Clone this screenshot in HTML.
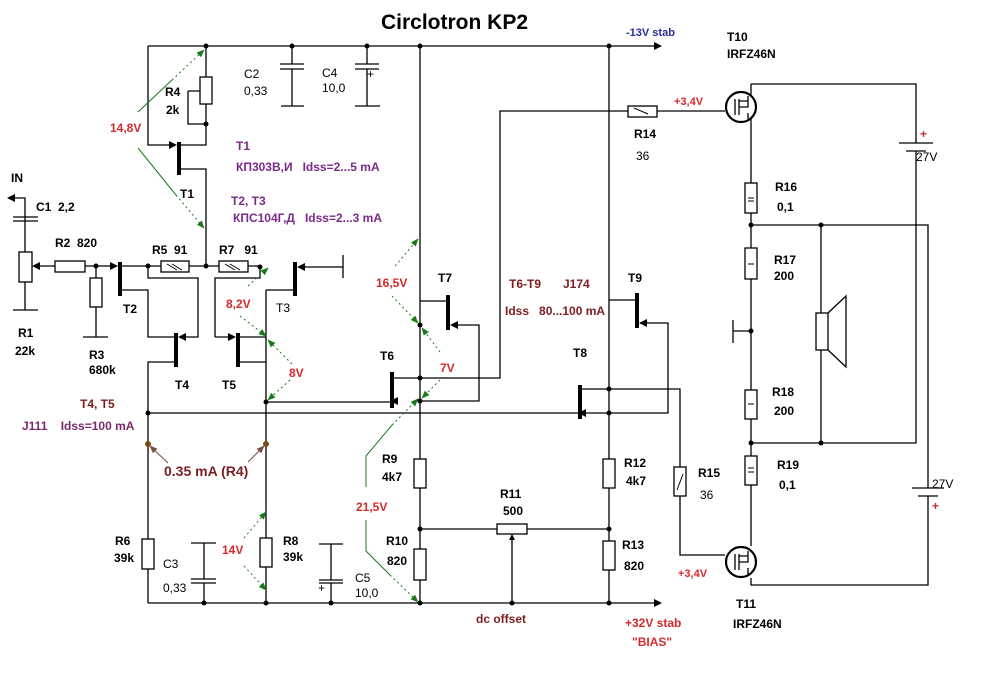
<!DOCTYPE html>
<html><head><meta charset="utf-8"><style>
html,body{margin:0;padding:0;background:#fff}
svg{display:block}
text{font-family:"Liberation Sans",Arial,sans-serif;font-size:12px;font-weight:bold;white-space:pre}
.n{font-weight:normal}
.r{fill:#d42a2a}.p{fill:#7a2a8a}.b{fill:#7a1f1f}
</style></head><body>
<svg width="1004" height="679" viewBox="0 0 1004 679" xmlns="http://www.w3.org/2000/svg">
<defs>
<marker id="g" viewBox="0 0 10 10" refX="9" refY="5" markerWidth="8" markerHeight="8" orient="auto"><path d="M0,1 L10,5 L0,9 Z" fill="#1a7a1a"/></marker>
<marker id="br" viewBox="0 0 10 10" refX="9" refY="5" markerWidth="8" markerHeight="8" orient="auto"><path d="M0,1 L10,5 L0,9 Z" fill="#7a4a3a"/></marker>
</defs>
<rect width="1004" height="679" fill="#fff"/>
<g stroke="#000" stroke-width="1.3" fill="none">
<path d="M148,46 H655"/>
<path d="M148,46 V145 H170"/>
<path d="M206,46 V77 M206,104 V124 H188 V91 M200,91 H188"/>
<rect x="200" y="77" width="12" height="27" fill="#fff"/>
<path d="M206,124 V145 H181 M181,169 H206 V266"/>
<path d="M292,46 V64 M280,64 H304 M280,69 H304 M292,69 V106 M281,106 H304"/>
<path d="M367,46 V64 M355,64 H379 M355,69 H379 M367,69 V106 M355,106 H380"/>
<path d="M420,46 V603 M609,46 V603"/>
<path d="M25,252 V198 H12"/>
<path d="M13,217 H38 M13,221 H38"/>
<rect x="19" y="252" width="13" height="30" fill="#fff"/>
<path d="M25,282 V310 M13,310 H38"/>
<path d="M40,266 H55 M84,266 H113"/>
<rect x="55" y="261" width="30" height="11" fill="#fff"/>
<path d="M96,266 V278 M96,307 V337 M83,337 H108"/>
<rect x="90" y="278" width="12" height="29" fill="#fff"/>
<path d="M122,266 H161 M189,266 H219 M248,266 H260"/>
<rect x="161" y="261" width="28" height="11" fill="#fff"/>
<rect x="219" y="261" width="29" height="11" fill="#fff"/>
<path d="M167,264 L177,270 M172,264 L182,270 M225,264 L235,270 M230,264 L240,270" stroke-width="1"/>
<path d="M122,290 H148 V337 H176"/>
<path d="M148,266 V278 H198 V337 H184"/>
<path d="M176,362 H148 V603"/>
<path d="M215,337 V278 H260 V267 M215,337 H232"/>
<path d="M240,337 H266 M240,362 H266 M266,290 V603 M266,290 H293"/>
<path d="M300,267 H343 M343,255 V278"/>
<path d="M148,413 H578 M266,402 H392"/>
<path d="M393,378 H500 V111 H628 M657,111 H725"/>
<rect x="628" y="106" width="29" height="11" fill="#fff"/>
<path d="M634,108 L648,114" stroke-width="1"/>
<path d="M420,401 H479 V325 H452 M420,301 H446"/>
<path d="M582,389 H680 V467 M680,496 V555 H725"/>
<rect x="674" y="467" width="12" height="29" fill="#fff"/>
<path d="M677,490 L683,474" stroke-width="1"/>
<path d="M609,300 H635 M640,323 H668 V413 H582"/>
<rect x="414" y="459" width="12" height="29" fill="#fff"/>
<rect x="414" y="549" width="12" height="31" fill="#fff"/>
<rect x="603" y="459" width="12" height="29" fill="#fff"/>
<rect x="603" y="541" width="12" height="29" fill="#fff"/>
<path d="M420,529 H497 M527,529 H609 M512,603 V536"/>
<rect x="497" y="524" width="30" height="10" fill="#fff"/>
<path d="M148,603 H655"/>
<rect x="142" y="539" width="12" height="30" fill="#fff"/>
<rect x="260" y="538" width="12" height="29" fill="#fff"/>
<path d="M204,543 V579 M191,543 H216 M191,579 H216 M191,583 H216 M204,583 V603"/>
<path d="M331,544 V580 M319,544 H343 M319,580 H343 M319,583 H343 M331,583 V603"/>
<path d="M751,84 V183 M751,213 V248 M751,279 V390 M751,419 V456 M751,485 V546"/>
<rect x="745" y="183" width="12" height="30" fill="#fff"/>
<rect x="745" y="248" width="12" height="31" fill="#fff"/>
<rect x="745" y="390" width="12" height="29" fill="#fff"/>
<rect x="745" y="456" width="12" height="29" fill="#fff"/>
<path d="M748,198 H754 M748,201 H754 M748,264 H754 M748,404 H754 M748,468 H754 M748,472 H754" stroke-width="1"/>
<path d="M751,84 H916 V143 M916,151 V443 H751 M751,225 H928 V488 M928,496 V585 H751 V578"/>
<path d="M899,143 H933 M906,151 H926 M912,488 H944 M918,496 H938"/>
<path d="M821,225 V313 M821,350 V443"/>
<rect x="816" y="313" width="12" height="37" fill="#fff"/>
<path d="M828,313 L846,296 V367 L828,350"/>
<path d="M733,320 V343 M733,331 H751"/>
<circle cx="741" cy="107" r="15" stroke-width="2.2" fill="#fff"/>
<circle cx="741" cy="562" r="15" stroke-width="2.2" fill="#fff"/>
<path d="M735,99 V115 M739,99 V115 M739,107 H748 V96 M739,101 H748 M748,113 V119"/>
<path d="M735,554 V570 M739,554 V570 M739,562 H748 V551 M739,556 H748 M748,568 V575"/>
</g>
<g fill="#000">
<rect x="177" y="142" width="4" height="33"/>
<rect x="118" y="262" width="4" height="34"/>
<rect x="174" y="333" width="4" height="34"/>
<rect x="236" y="333" width="4" height="34"/>
<rect x="293" y="262" width="4" height="34"/>
<rect x="446" y="295" width="4" height="35"/>
<rect x="390" y="372" width="4" height="36"/>
<rect x="578" y="385" width="4" height="34"/>
<rect x="635" y="293" width="4" height="35"/>
<path d="M177,145 l-8,-4 v8z M118,266 l-8,-4 v8z M178,337 l8,-4 v8z M236,337 l-8,-4 v8z M297,267 l8,-4 v8z M450,325 l8,-4 v8z M390,401 l8,-4 v8z M578,413 l8,-4 v8z M639,323 l8,-4 v8z M32,266 l8,-4 v8z M7,198 l8,-4 v8z M662,46 l-8,-4 v8z M662,603 l-8,-4 v8z M512,534 l-3,6 h6z"/>
<g>
<circle cx="206" cy="46" r="2.5"/><circle cx="292" cy="46" r="2.5"/><circle cx="367" cy="46" r="2.5"/><circle cx="420" cy="46" r="2.5"/><circle cx="609" cy="46" r="2.5"/>
<circle cx="206" cy="124" r="2.5"/><circle cx="96" cy="266" r="2.5"/><circle cx="148" cy="266" r="2.5"/><circle cx="206" cy="266" r="2.5"/><circle cx="260" cy="267" r="2.5"/>
<circle cx="148" cy="413" r="2.5"/><circle cx="266" cy="402" r="2.5"/><circle cx="420" cy="378" r="2.5"/><circle cx="420" cy="401" r="2.5"/><circle cx="420" cy="325" r="2.5"/>
<circle cx="609" cy="389" r="2.5"/><circle cx="609" cy="413" r="2.5"/><circle cx="420" cy="529" r="2.5"/><circle cx="609" cy="529" r="2.5"/>
<circle cx="204" cy="603" r="2.5"/><circle cx="266" cy="603" r="2.5"/><circle cx="331" cy="603" r="2.5"/><circle cx="420" cy="603" r="2.5"/><circle cx="512" cy="603" r="2.5"/><circle cx="609" cy="603" r="2.5"/>
<circle cx="751" cy="225" r="2.5"/><circle cx="821" cy="225" r="2.5"/><circle cx="751" cy="331" r="2.5"/><circle cx="751" cy="443" r="2.5"/><circle cx="821" cy="443" r="2.5"/>
</g>
<circle cx="148" cy="444" r="3" fill="#7a4a1a"/><circle cx="266" cy="444" r="3" fill="#7a4a1a"/>
</g>
<g stroke="#1a7a1a" stroke-width="1" fill="none">
<path d="M138,112 L172,80"/><path d="M172,80 L204,50" stroke-dasharray="2,3" marker-end="url(#g)"/>
<path d="M138,148 L176,195"/><path d="M176,195 L204,228" stroke-dasharray="2,3" marker-end="url(#g)"/>
<path d="M248,286 L268,268" stroke-dasharray="2,3" marker-end="url(#g)"/>
<path d="M240,316 L266,336" stroke-dasharray="2,3" marker-end="url(#g)"/>
<path d="M292,364 L268,340" stroke-dasharray="2,3" marker-end="url(#g)"/>
<path d="M290,380 L268,400" stroke-dasharray="2,3" marker-end="url(#g)"/>
<path d="M395,266 L418,239" stroke-dasharray="2,3" marker-end="url(#g)"/>
<path d="M392,296 L418,323" stroke-dasharray="2,3" marker-end="url(#g)"/>
<path d="M440,352 L422,328" stroke-dasharray="2,3" marker-end="url(#g)"/>
<path d="M440,380 L422,398" stroke-dasharray="2,3" marker-end="url(#g)"/>
<path d="M366,487 V456 L392,425"/><path d="M392,425 L418,399" stroke-dasharray="2,3" marker-end="url(#g)"/>
<path d="M366,520 V551 L390,575"/><path d="M390,575 L418,602" stroke-dasharray="2,3" marker-end="url(#g)"/>
<path d="M244,538 L266,512" stroke-dasharray="2,3" marker-end="url(#g)"/>
<path d="M244,566 L266,590" stroke-dasharray="2,3" marker-end="url(#g)"/>
</g>
<g stroke="#7a4a3a" stroke-width="1" fill="none">
<path d="M168,463 L150,446" marker-end="url(#br)"/>
<path d="M248,462 L264,446" marker-end="url(#br)"/>
</g>
<text x="381" y="29" style="font-size:21px">Circlotron KP2</text>
<text x="626" y="36" style="fill:#2a2a9a;font-size:11px">-13V stab</text>
<text x="727" y="41">T10</text><text x="727" y="58">IRFZ46N</text>
<text x="674" y="105" class="r" style="font-size:11px">+3,4V</text>
<text x="634" y="138">R14</text><text x="636" y="160" class="n">36</text>
<text x="244" y="78" class="n">C2</text><text x="244" y="95" class="n">0,33</text>
<text x="322" y="77" class="n">C4</text><text x="322" y="92" class="n">10,0</text>
<text x="367" y="78" class="n">+</text>
<text x="165" y="96">R4</text><text x="166" y="114">2k</text>
<text x="110" y="132" class="r">14,8V</text>
<text x="236" y="150" class="p">T1</text>
<text x="236" y="171" class="p">КП303В,И   Idss=2...5 mA</text>
<text x="11" y="182">IN</text>
<text x="180" y="198">T1</text>
<text x="231" y="205" class="p">T2, T3</text>
<text x="233" y="222" class="p">КПС104Г,Д   Idss=2...3 mA</text>
<text x="36" y="211">C1  2,2</text>
<text x="55" y="247">R2  820</text>
<text x="152" y="254">R5  91</text>
<text x="219" y="254">R7   91</text>
<text x="376" y="287" class="r">16,5V</text>
<text x="438" y="282">T7</text>
<text x="509" y="288" class="b">T6-T9</text><text x="563" y="288" class="b">J174</text>
<text x="505" y="315" class="b">Idss   80...100 mA</text>
<text x="628" y="282">T9</text>
<text x="775" y="191">R16</text><text x="777" y="211">0,1</text>
<text x="774" y="264">R17</text><text x="774" y="280">200</text>
<text x="772" y="396">R18</text><text x="774" y="415">200</text>
<text x="777" y="469">R19</text><text x="779" y="489">0,1</text>
<text x="920" y="138" class="r">+</text><text x="916" y="161" class="n">27V</text>
<text x="932" y="488" class="n">27V</text><text x="932" y="510" class="r">+</text>
<text x="226" y="308" class="r">8,2V</text>
<text x="276" y="312" class="n">T3</text>
<text x="123" y="313">T2</text>
<text x="18" y="337">R1</text><text x="15" y="355">22k</text>
<text x="89" y="359">R3</text><text x="89" y="374">680k</text>
<text x="175" y="389">T4</text><text x="222" y="389">T5</text>
<text x="289" y="377" class="r">8V</text>
<text x="380" y="360">T6</text>
<text x="440" y="372" class="r">7V</text>
<text x="573" y="357">T8</text>
<text x="80" y="408" class="b">T4, T5</text>
<text x="22" y="430" class="b" style="fill:#7a2a6a">J111    Idss=100 mA</text>
<text x="164" y="476" class="b" style="font-size:14px">0.35 mA (R4)</text>
<text x="382" y="463">R9</text><text x="382" y="481">4k7</text>
<text x="356" y="511" class="r">21,5V</text>
<text x="500" y="498">R11</text><text x="503" y="515">500</text>
<text x="624" y="467">R12</text><text x="626" y="485">4k7</text>
<text x="698" y="477">R15</text><text x="700" y="499" class="n">36</text>
<text x="115" y="545">R6</text><text x="114" y="562">39k</text>
<text x="163" y="568" class="n">C3</text><text x="163" y="592" class="n">0,33</text>
<text x="222" y="554" class="r">14V</text>
<text x="283" y="545">R8</text><text x="283" y="561">39k</text>
<text x="355" y="582" class="n">C5</text><text x="355" y="597" class="n">10,0</text>
<text x="318" y="592" class="n">+</text>
<text x="386" y="545">R10</text><text x="387" y="565">820</text>
<text x="622" y="549">R13</text><text x="624" y="570">820</text>
<text x="678" y="577" class="r" style="font-size:11px">+3,4V</text>
<text x="476" y="623" class="b">dc offset</text>
<text x="625" y="627" class="r">+32V stab</text>
<text x="632" y="646" class="r">"BIAS"</text>
<text x="736" y="608">T11</text><text x="733" y="628">IRFZ46N</text>
</svg>
</body></html>
